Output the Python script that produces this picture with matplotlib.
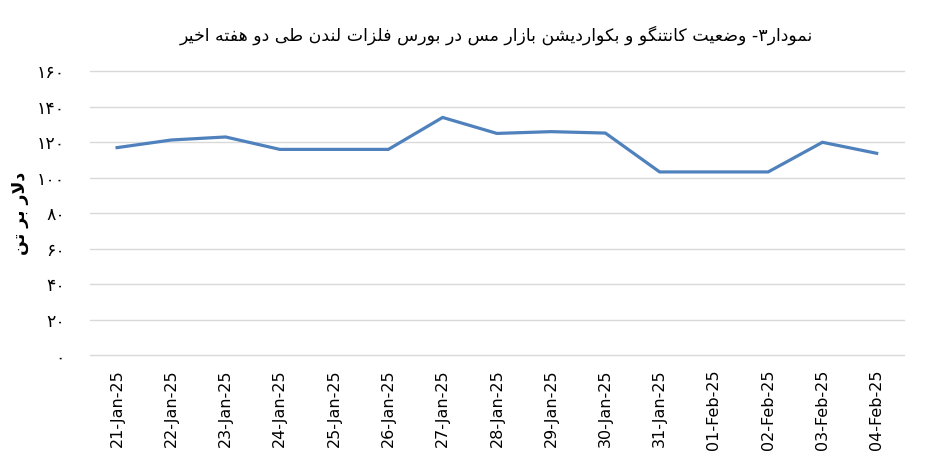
import re
import matplotlib
matplotlib.use("Agg")
import matplotlib.pyplot as plt

# data
dates = ["21-Jan-25", "22-Jan-25", "23-Jan-25", "24-Jan-25", "25-Jan-25",
         "26-Jan-25", "27-Jan-25", "28-Jan-25", "29-Jan-25", "30-Jan-25",
         "31-Jan-25", "01-Feb-25", "02-Feb-25", "03-Feb-25", "04-Feb-25"]
spread = [117, 121.3, 123, 116, 116, 116, 134, 125, 126, 125.2,
          103.3, 103.3, 103.3, 120, 113.8]
y_ticks = [0, 20, 40, 60, 80, 100, 120, 140, 160]

title_fa = "نمودار۳- وضعیت کانتنگو و بکواردیشن بازار مس در بورس فلزات لندن طی دو هفته اخیر"
ylabel_fa = "دلار بر تن"

# matplotlib has no arabic shaping, so do a small reshape + reverse by hand
FORMS = {
    'ا': ('\uFE8D', '\uFE8E', None, None),
    'ب': ('\uFE8F', '\uFE90', '\uFE91', '\uFE92'),
    'ت': ('\uFE95', '\uFE96', '\uFE97', '\uFE98'),
    'خ': ('\uFEA5', '\uFEA6', '\uFEA7', '\uFEA8'),
    'د': ('\uFEA9', '\uFEAA', None, None),
    'ر': ('\uFEAD', '\uFEAE', None, None),
    'ز': ('\uFEAF', '\uFEB0', None, None),
    'س': ('\uFEB1', '\uFEB2', '\uFEB3', '\uFEB4'),
    'ش': ('\uFEB5', '\uFEB6', '\uFEB7', '\uFEB8'),
    'ض': ('\uFEBD', '\uFEBE', '\uFEBF', '\uFEC0'),
    'ط': ('\uFEC1', '\uFEC2', '\uFEC3', '\uFEC4'),
    'ع': ('\uFEC9', '\uFECA', '\uFECB', '\uFECC'),
    'ف': ('\uFED1', '\uFED2', '\uFED3', '\uFED4'),
    'ل': ('\uFEDD', '\uFEDE', '\uFEDF', '\uFEE0'),
    'م': ('\uFEE1', '\uFEE2', '\uFEE3', '\uFEE4'),
    'ن': ('\uFEE5', '\uFEE6', '\uFEE7', '\uFEE8'),
    'ه': ('\uFEE9', '\uFEEA', '\uFEEB', '\uFEEC'),
    'و': ('\uFEED', '\uFEEE', None, None),
    'ی': ('\uFBFC', '\uFBFD', '\uFBFE', '\uFBFF'),
    'ک': ('\uFB8E', '\uFB8F', '\uFB90', '\uFB91'),
    'گ': ('\uFB92', '\uFB93', '\uFB94', '\uFB95'),
}


def dual(c):
    return c in FORMS and FORMS[c][2] is not None


def shape_fa(text):
    out = []
    i = 0
    n = len(text)
    while i < n:
        c = text[i]
        if c not in FORMS:
            out.append(c)
            i += 1
            continue
        prev = text[i - 1] if i > 0 else ""
        join_prev = dual(prev)
        if c == 'ل' and i + 1 < n and text[i + 1] == 'ا':
            out.append('\uFEFC' if join_prev else '\uFEFB')
            i += 2
            continue
        nxt = text[i + 1] if i + 1 < n else ""
        join_next = dual(c) and nxt in FORMS
        iso, fin, ini, med = FORMS[c]
        if join_prev and join_next:
            out.append(med)
        elif join_prev:
            out.append(fin)
        elif join_next:
            out.append(ini)
        else:
            out.append(iso)
        i += 1
    vis = "".join(out)[::-1]
    # digit runs stay left-to-right
    return re.sub(r"[0-9\u06F0-\u06F9]+", lambda m: m.group(0)[::-1], vis)


def fa_digits(v):
    return str(v).translate(str.maketrans("0123456789", "۰۱۲۳۴۵۶۷۸۹"))


plt.rcParams['font.family'] = ['DejaVu Sans']

fig = plt.figure(figsize=(9.45, 4.74), dpi=100)
ax = fig.add_axes([0.0952, 0.2504, 0.8612, 0.5992])

x = range(len(dates))
ax.plot(x, spread, color="#4F81BD", linewidth=2.3, solid_joinstyle="miter", zorder=3)

ax.set_xlim(-0.5, len(dates) - 0.5)
ax.set_ylim(0, 160)
ax.set_yticks(y_ticks)
ax.set_yticklabels([fa_digits(v) for v in y_ticks], fontsize=12.5)
ax.set_xticks(list(x))
ax.set_xticklabels(dates, rotation=90, fontsize=11.5)
ax.tick_params(axis="y", length=0, pad=18)
ax.tick_params(axis="x", length=0, pad=10)

ax.grid(axis="y", color="#D9D9D9", linewidth=1)
for gl in ax.get_ygridlines():
    gl.set_clip_on(False)
for s in ax.spines.values():
    s.set_visible(False)

ax.set_ylabel(shape_fa(ylabel_fa), fontsize=12.5, fontweight="bold", labelpad=6)
fig.text(0.525, 0.925, shape_fa(title_fa), ha="center", va="center", fontsize=12.5)

fig.savefig("out.png", dpi=100)
